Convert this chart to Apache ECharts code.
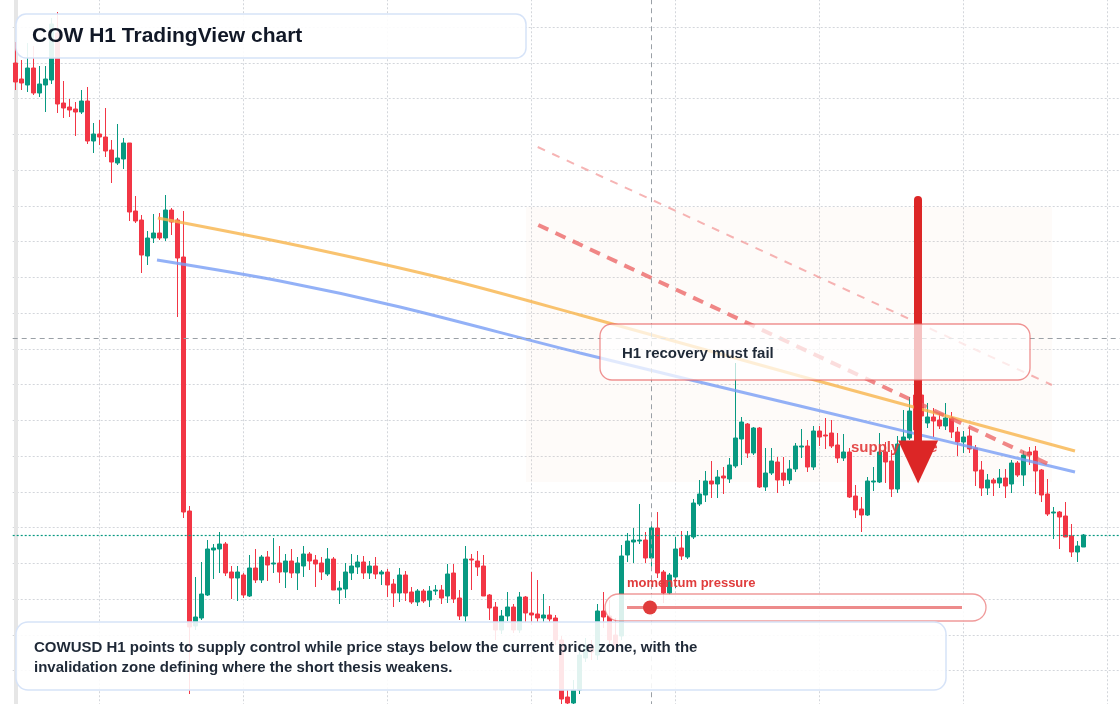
<!DOCTYPE html>
<html>
<head>
<meta charset="utf-8">
<title>COW H1 TradingView chart</title>
<script src="https://cdn.jsdelivr.net/npm/echarts@6.0.0/dist/echarts.min.js"></script>
<style>
html, body { margin: 0; padding: 0; background: #fff; }
#chart { width: 1120px; height: 704px; }
</style>
</head>
<body>
<div id="chart"></div>
<script>
// COWUSD hourly bars: [open, close, low, high]
const candles = [
  [0.2967,0.2948,0.2940,0.2988],[0.2951,0.2947,0.2940,0.2970],[0.2945,0.2962,0.2938,0.2987],[0.2962,0.2937,0.2935,0.2984],
  [0.2937,0.2946,0.2933,0.2964],[0.2945,0.2951,0.2918,0.2964],[0.2950,0.3006,0.2946,0.3012],[0.2997,0.2926,0.2917,0.3018],
  [0.2927,0.2922,0.2912,0.2949],[0.2923,0.2920,0.2913,0.2931],[0.2921,0.2918,0.2894,0.2928],[0.2918,0.2929,0.2916,0.2940],
  [0.2929,0.2889,0.2886,0.2943],[0.2889,0.2896,0.2877,0.2907],[0.2896,0.2893,0.2885,0.2910],[0.2893,0.2879,0.2873,0.2922],
  [0.2880,0.2868,0.2847,0.2890],[0.2867,0.2872,0.2865,0.2906],[0.2871,0.2887,0.2861,0.2892],[0.2887,0.2818,0.2809,0.2887],
  [0.2819,0.2809,0.2807,0.2834],[0.2810,0.2775,0.2757,0.2815],[0.2774,0.2792,0.2765,0.2799],[0.2792,0.2797,0.2787,0.2816],
  [0.2797,0.2792,0.2790,0.2817],[0.2792,0.2820,0.2789,0.2835],[0.2820,0.2808,0.2795,0.2822],[0.2810,0.2772,0.2713,0.2812],
  [0.2773,0.2518,0.2512,0.2819],[0.2519,0.2403,0.2336,0.2524],[0.2404,0.2413,0.2400,0.2453],[0.2412,0.2436,0.2410,0.2468],
  [0.2435,0.2481,0.2434,0.2490],[0.2480,0.2482,0.2451,0.2486],[0.2481,0.2486,0.2457,0.2498],[0.2486,0.2457,0.2454,0.2488],
  [0.2458,0.2452,0.2431,0.2464],[0.2452,0.2458,0.2429,0.2464],[0.2455,0.2435,0.2432,0.2457],[0.2434,0.2462,0.2433,0.2475],
  [0.2462,0.2450,0.2447,0.2481],[0.2450,0.2473,0.2447,0.2475],[0.2473,0.2465,0.2449,0.2479],[0.2466,0.2467,0.2457,0.2492],
  [0.2467,0.2458,0.2447,0.2484],[0.2458,0.2469,0.2442,0.2476],[0.2469,0.2457,0.2452,0.2481],[0.2457,0.2467,0.2440,0.2473],
  [0.2464,0.2476,0.2453,0.2484],[0.2476,0.2469,0.2460,0.2478],[0.2470,0.2466,0.2443,0.2475],[0.2467,0.2458,0.2450,0.2473],
  [0.2456,0.2471,0.2454,0.2482],[0.2471,0.2440,0.2440,0.2473],[0.2440,0.2442,0.2426,0.2449],[0.2441,0.2458,0.2432,0.2467],
  [0.2457,0.2464,0.2450,0.2476],[0.2463,0.2468,0.2456,0.2475],[0.2468,0.2457,0.2451,0.2474],[0.2457,0.2464,0.2451,0.2469],
  [0.2464,0.2456,0.2451,0.2473],[0.2456,0.2458,0.2445,0.2460],[0.2458,0.2445,0.2433,0.2461],[0.2446,0.2437,0.2423,0.2451],
  [0.2437,0.2455,0.2428,0.2462],[0.2455,0.2437,0.2429,0.2459],[0.2438,0.2428,0.2426,0.2443],[0.2428,0.2439,0.2424,0.2441],
  [0.2439,0.2429,0.2427,0.2441],[0.2430,0.2439,0.2423,0.2444],[0.2439,0.2440,0.2435,0.2445],[0.2440,0.2432,0.2426,0.2445],
  [0.2434,0.2456,0.2427,0.2466],[0.2457,0.2431,0.2427,0.2466],[0.2432,0.2414,0.2410,0.2440],[0.2414,0.2471,0.2408,0.2484],
  [0.2471,0.2470,0.2440,0.2476],[0.2469,0.2463,0.2454,0.2479],[0.2464,0.2434,0.2434,0.2475],[0.2435,0.2422,0.2410,0.2436],
  [0.2423,0.2400,0.2390,0.2428],[0.2400,0.2414,0.2396,0.2420],[0.2414,0.2423,0.2409,0.2438],[0.2423,0.2400,0.2397,0.2426],
  [0.2400,0.2433,0.2397,0.2438],[0.2433,0.2417,0.2408,0.2434],[0.2417,0.2415,0.2405,0.2458],[0.2416,0.2412,0.2408,0.2450],
  [0.2412,0.2415,0.2408,0.2436],[0.2415,0.2411,0.2408,0.2424],[0.2412,0.2390,0.2385,0.2415],[0.2390,0.2331,0.2326,0.2394],
  [0.2333,0.2327,0.2324,0.2340],[0.2327,0.2340,0.2326,0.2350],[0.2340,0.2375,0.2336,0.2380],[0.2372,0.2385,0.2368,0.2392],
  [0.2385,0.2378,0.2370,0.2390],[0.2375,0.2419,0.2370,0.2426],[0.2419,0.2413,0.2402,0.2438],[0.2414,0.2390,0.2385,0.2430],
  [0.2395,0.2385,0.2380,0.2412],[0.2394,0.2474,0.2390,0.2485],[0.2475,0.2489,0.2468,0.2497],[0.2488,0.2490,0.2467,0.2502],
  [0.2489,0.2490,0.2486,0.2526],[0.2490,0.2472,0.2467,0.2498],[0.2472,0.2502,0.2460,0.2505],[0.2502,0.2457,0.2452,0.2518],
  [0.2458,0.2437,0.2427,0.2460],[0.2437,0.2455,0.2435,0.2457],[0.2453,0.2481,0.2442,0.2493],[0.2482,0.2474,0.2470,0.2499],
  [0.2473,0.2494,0.2471,0.2499],[0.2493,0.2527,0.2491,0.2531],[0.2526,0.2536,0.2524,0.2550],[0.2535,0.2549,0.2528,0.2559],
  [0.2549,0.2546,0.2532,0.2569],[0.2546,0.2553,0.2532,0.2560],[0.2554,0.2552,0.2536,0.2563],[0.2551,0.2565,0.2547,0.2572],
  [0.2564,0.2592,0.2562,0.2667],[0.2591,0.2608,0.2565,0.2613],[0.2606,0.2577,0.2572,0.2607],[0.2577,0.2602,0.2575,0.2603],
  [0.2602,0.2543,0.2542,0.2603],[0.2543,0.2557,0.2539,0.2582],[0.2557,0.2569,0.2555,0.2582],[0.2568,0.2550,0.2537,0.2573],
  [0.2557,0.2550,0.2544,0.2573],[0.2550,0.2561,0.2546,0.2570],[0.2561,0.2584,0.2558,0.2587],[0.2583,0.2584,0.2572,0.2601],
  [0.2584,0.2563,0.2558,0.2590],[0.2563,0.2599,0.2560,0.2604],[0.2599,0.2593,0.2584,0.2604],[0.2595,0.2594,0.2581,0.2612],
  [0.2597,0.2584,0.2582,0.2610],[0.2585,0.2572,0.2567,0.2597],[0.2572,0.2578,0.2569,0.2596],[0.2578,0.2533,0.2532,0.2582],
  [0.2534,0.2520,0.2512,0.2545],[0.2521,0.2515,0.2498,0.2533],[0.2515,0.2549,0.2514,0.2553],[0.2548,0.2549,0.2539,0.2563],
  [0.2548,0.2578,0.2547,0.2597],[0.2578,0.2568,0.2547,0.2588],[0.2569,0.2541,0.2533,0.2580],[0.2541,0.2586,0.2537,0.2594],
  [0.2588,0.2593,0.2587,0.2620],[0.2592,0.2619,0.2590,0.2633],[0.2635,0.2600,0.2590,0.2640],[0.2635,0.2614,0.2605,0.2645],
  [0.2607,0.2613,0.2602,0.2627],[0.2613,0.2609,0.2593,0.2622],[0.2610,0.2604,0.2601,0.2617],[0.2604,0.2612,0.2600,0.2627],
  [0.2612,0.2598,0.2592,0.2618],[0.2598,0.2588,0.2574,0.2603],[0.2588,0.2593,0.2577,0.2599],[0.2594,0.2581,0.2577,0.2603],
  [0.2582,0.2559,0.2544,0.2585],[0.2560,0.2542,0.2534,0.2569],[0.2542,0.2550,0.2535,0.2556],[0.2550,0.2547,0.2534,0.2552],
  [0.2547,0.2552,0.2542,0.2561],[0.2552,0.2544,0.2532,0.2561],[0.2546,0.2567,0.2537,0.2570],[0.2567,0.2555,0.2553,0.2569],
  [0.2555,0.2575,0.2544,0.2579],[0.2578,0.2575,0.2565,0.2583],[0.2579,0.2559,0.2536,0.2584],[0.2560,0.2535,0.2528,0.2561],
  [0.2536,0.2516,0.2514,0.2551],[0.2517,0.2518,0.2491,0.2523],[0.2518,0.2513,0.2481,0.2519],[0.2514,0.2493,0.2493,0.2528],
  [0.2494,0.2478,0.2473,0.2506],[0.2478,0.2484,0.2468,0.2489],[0.2483,0.2495,0.2483,0.2496]
];

// bar slots on the time axis (a few empty slots to the right of the last bar)
const slotCount = 185;
const categories = [];
for (let i = 0; i < slotCount; i++) {
  const d = new Date(Date.UTC(2025, 2, 1, 0) + i * 3600 * 1000);
  categories.push(d.toISOString().slice(5, 16).replace('T', ' '));
}

// overlay curves, x given in bar index
const emaFastIdx = [23.7, 47.4, 72.4, 94.05, 130.7, 176.55];
const emaFast = [0.2812, 0.2784, 0.2750, 0.2715, 0.2654, 0.2579];
const emaSlowIdx = [23.55, 44.05, 64.05, 94.05, 130.7, 176.55];
const emaSlow = [0.2770, 0.2749, 0.2723, 0.2677, 0.2624, 0.2558];
const channelUpper = [[87.0, 0.2883], [172.7, 0.2645]];
const channelLower = [[87.1, 0.2805], [172.8, 0.2564]];
const supplyZoneIdx = [85.05, 172.72];
const supplyZonePrice = [0.2823, 0.2548];
const arrowIdx = 150.4;
const arrowPrice = [0.2830, 0.2568];
const crossIdx = 105.9;
const crossPrice = 0.2692;
const lastPrice = 0.2495;

let myChart = echarts.init(document.getElementById("chart"));

const zip = (xs, ys) => xs.map((x, i) => [x, ys[i]]);
const font = '"Liberation Sans", Arial, sans-serif';
const gridDots = { color: "#d3d6db", width: 1, type: [2, 2] };
const hidden = {
  axisLine: { show: false }, axisTick: { show: false }, axisLabel: { show: false }
};

let option = {
  animation: false,
  backgroundColor: "#ffffff",
  grid: [
    // price pane (extends slightly past the visible frame)
    { left: 12.7, right: -2.7, top: -8.75, bottom: -2.25, outerBoundsMode: "none" },
    // helper pane for vertical grid, starts at bar 14
    { left: 99.7, right: -2.7, top: -8.75, bottom: -2.25, outerBoundsMode: "none" }
  ],
  xAxis: [
    Object.assign({
      type: "category", data: categories, boundaryGap: true, gridIndex: 0,
      splitLine: { show: false }
    }, hidden),
    {
      type: "value", min: -0.5, max: slotCount - 0.5, gridIndex: 0, show: false
    },
    Object.assign({
      // vertical grid every 24 bars
      type: "value", min: 0, max: slotCount - 14.5, interval: 24, gridIndex: 1,
      splitLine: { show: true, lineStyle: gridDots }
    }, hidden)
  ],
  yAxis: [
    {
      type: "value", min: 0.232375, max: 0.303875, gridIndex: 0,
      axisLine: { show: true, lineStyle: { color: "#e6e6e6", width: 4 } },
      axisTick: { show: false }, axisLabel: { show: false }, splitLine: { show: false }
    },
    Object.assign({
      // horizontal grid
      type: "value", min: 0, max: 20, interval: 1, gridIndex: 0,
      splitLine: { show: true, lineStyle: gridDots }
    }, hidden),
    {
      type: "value", min: 0, max: 1, gridIndex: 1, show: false
    }
  ],
  series: [
    {
      name: "COWUSD", type: "candlestick", xAxisIndex: 0, yAxisIndex: 0, z: 2,
      data: candles, barWidth: 4,
      itemStyle: {
        color: "#089981", color0: "#f23645",
        borderColor: "#089981", borderColor0: "#f23645", borderWidth: 1
      }
    },
    {
      name: "EMA fast", type: "line", xAxisIndex: 1, yAxisIndex: 0, z: 3,
      data: zip(emaFastIdx, emaFast), smooth: 0.3, symbol: "none",
      lineStyle: { color: "rgba(247,180,75,0.8)", width: 3 }
    },
    {
      name: "EMA slow", type: "line", xAxisIndex: 1, yAxisIndex: 0, z: 3,
      data: zip(emaSlowIdx, emaSlow), smooth: 0.3, symbol: "none",
      lineStyle: { color: "rgba(120,158,245,0.8)", width: 3 }
    },
    {
      name: "channel upper", type: "line", xAxisIndex: 1, yAxisIndex: 0, z: 3,
      data: channelUpper, symbol: "none",
      lineStyle: { color: "rgba(240,130,130,0.6)", width: 2, type: [8, 8] },
      markArea: {
        silent: true, z: 1,
        itemStyle: { color: "rgba(240,200,170,0.07)" },
        data: [[
          { coord: [supplyZoneIdx[0], supplyZonePrice[0]] },
          { coord: [supplyZoneIdx[1], supplyZonePrice[1]] }
        ]]
      }
    },
    {
      name: "channel lower", type: "line", xAxisIndex: 1, yAxisIndex: 0, z: 3,
      data: channelLower, symbol: "none",
      lineStyle: { color: "rgba(235,95,95,0.75)", width: 4, type: [11, 8] },
      markLine: {
        silent: true, z: 5, symbol: ["none", "none"], precision: 6,
        label: { show: false },
        data: [
          { xAxis: crossIdx, lineStyle: { color: "#9aa0a6", width: 1, type: [5, 4] } },
          { yAxis: crossPrice, lineStyle: { color: "#9aa0a6", width: 1, type: [5, 4] } },
          { yAxis: lastPrice, lineStyle: { color: "#089981", width: 1.2, type: [2, 2] } },
          [
            { coord: [arrowIdx, arrowPrice[0]], symbol: "none",
              lineStyle: { color: "#dc2626", width: 8, type: "solid", cap: "round" },
              itemStyle: { color: "#dc2626" } },
            { coord: [arrowIdx, arrowPrice[1]], symbol: "triangle", symbolSize: [40, 43] }
          ]
        ]
      }
    }
  ],
  graphic: [
    { type: "rect", z: 10, shape: { x: 16, y: 14, width: 510, height: 44, r: 10 },
      style: { fill: "rgba(255,255,255,0.9)", stroke: "#d6e3f8", lineWidth: 1.5 } },
    { type: "text", z: 11, x: 32, y: 36,
      style: { text: "COW H1 TradingView chart", font: "bold 21px " + font, fill: "#111827", verticalAlign: "middle" } },

    { type: "text", z: 4, x: 851, y: 448,
      style: { text: "supply zone", font: "bold 15px " + font, fill: "rgba(225,55,55,0.9)", verticalAlign: "middle" } },

    { type: "rect", z: 10, shape: { x: 600, y: 324, width: 430, height: 56, r: 12 },
      style: { fill: "rgba(255,255,255,0.72)", stroke: "rgba(232,100,100,0.7)", lineWidth: 1.3 } },
    { type: "text", z: 11, x: 622, y: 354,
      style: { text: "H1 recovery must fail", font: "bold 15px " + font, fill: "#1f2937", verticalAlign: "middle" } },

    { type: "text", z: 11, x: 627, y: 583,
      style: { text: "momentum pressure", font: "bold 13px " + font, fill: "#e03c3c", verticalAlign: "middle" } },
    { type: "rect", z: 10, shape: { x: 605, y: 594, width: 381, height: 27, r: 13.5 },
      style: { fill: "rgba(255,255,255,0.85)", stroke: "rgba(232,100,100,0.65)", lineWidth: 1.3 } },
    { type: "line", z: 11, shape: { x1: 627, y1: 607.5, x2: 962, y2: 607.5 },
      style: { stroke: "rgba(230,90,90,0.7)", lineWidth: 3 } },
    { type: "circle", z: 12, shape: { cx: 650, cy: 607.5, r: 7 },
      style: { fill: "#e03c3c" } },

    { type: "rect", z: 10, shape: { x: 16, y: 622, width: 930, height: 68, r: 12 },
      style: { fill: "rgba(255,255,255,0.88)", stroke: "#d6e3f8", lineWidth: 1.5 } },
    { type: "text", z: 11, x: 34, y: 648,
      style: { text: "COWUSD H1 points to supply control while price stays below the current price zone, with the",
               font: "bold 15px " + font, fill: "#1f2937", verticalAlign: "middle" } },
    { type: "text", z: 11, x: 34, y: 668,
      style: { text: "invalidation zone defining where the short thesis weakens.",
               font: "bold 15px " + font, fill: "#1f2937", verticalAlign: "middle" } }
  ]
};

myChart.setOption(option);

window.addEventListener("resize", function() {
  myChart.resize();
});
</script>
</body>
</html>
